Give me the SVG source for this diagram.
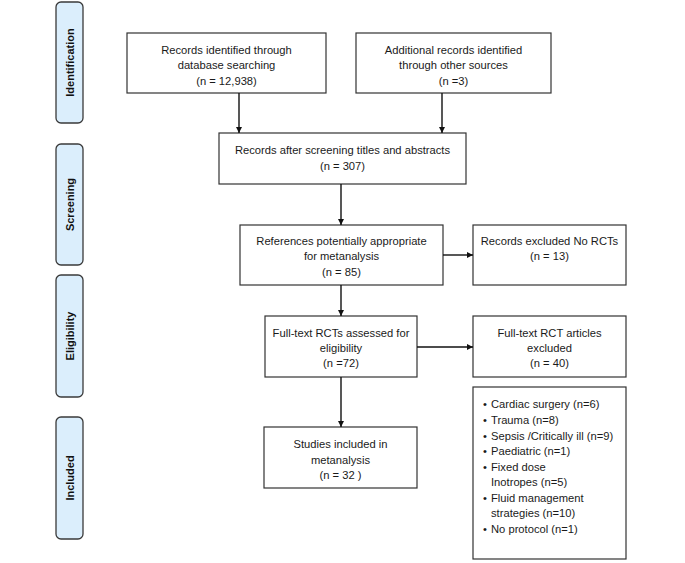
<svg xmlns="http://www.w3.org/2000/svg" width="685" height="563" viewBox="0 0 685 563">
<style>
.stage rect{fill:#dbeefc;stroke:#3a3a3a;stroke-width:1.3}
.stage text{font-family:"Liberation Sans",Arial,sans-serif;font-size:11px;font-weight:bold;fill:#111;text-anchor:middle}
.box rect{fill:#fff;stroke:#333;stroke-width:1.2}
.box text{font-family:"Liberation Sans",Arial,sans-serif;font-size:11.2px;fill:#1a1a1a;text-anchor:middle}
.list text{text-anchor:start}
.conn line{stroke:#111;stroke-width:1.4;marker-end:url(#ah)}
</style>
<defs>
<marker id="ah" viewBox="0 0 8 8" refX="8" refY="4" markerWidth="6" markerHeight="6" orient="auto" markerUnits="userSpaceOnUse">
<path d="M0,0 L8,4 L0,8 z" fill="#111"/>
</marker>
</defs>
<rect width="685" height="563" fill="#fff"/>
<g id="stage-identification" class="stage"><rect x="56" y="2" width="27" height="121" rx="5"/><text transform="translate(73.5,62.5) rotate(-90)">Identification</text></g>
<g id="stage-screening" class="stage"><rect x="56" y="144" width="27" height="121" rx="5"/><text transform="translate(73.5,204.5) rotate(-90)">Screening</text></g>
<g id="stage-eligibility" class="stage"><rect x="56" y="275" width="27" height="122" rx="5"/><text transform="translate(73.5,336) rotate(-90)">Eligibility</text></g>
<g id="stage-included" class="stage"><rect x="56" y="417" width="27" height="122" rx="5"/><text transform="translate(73.5,478) rotate(-90)">Included</text></g>

<g id="n1" class="box"><rect x="127" y="33" width="199" height="60"/><text x="226.5" y="53.5">Records identified through</text><text x="226.5" y="69">database searching</text><text x="226.5" y="85">(n = 12,938)</text></g>
<g id="n2" class="box"><rect x="356" y="33" width="195" height="60"/><text x="453.5" y="53.5">Additional records identified</text><text x="453.5" y="69">through other sources</text><text x="453.5" y="85">(n =3)</text></g>
<g id="n3" class="box"><rect x="219" y="133" width="247" height="51"/><text x="342.5" y="153.5">Records after screening titles and abstracts</text><text x="342.5" y="170">(n = 307)</text></g>
<g id="n4" class="box"><rect x="240" y="225" width="203" height="60"/><text x="341.5" y="245">References potentially appropriate</text><text x="341.5" y="260">for metanalysis</text><text x="341.5" y="276">(n = 85)</text></g>
<g id="n5" class="box"><rect x="473" y="225" width="153" height="60"/><text x="549.5" y="245">Records excluded No RCTs</text><text x="549.5" y="260">(n = 13)</text></g>
<g id="n6" class="box"><rect x="265" y="316" width="152" height="61"/><text x="341" y="336.5">Full-text RCTs assessed for</text><text x="341" y="351.5">eligibility</text><text x="341" y="367">(n =72)</text></g>
<g id="n7" class="box"><rect x="473" y="316" width="153" height="61"/><text x="549.5" y="336.5">Full-text RCT articles</text><text x="549.5" y="351.5">excluded</text><text x="549.5" y="367">(n = 40)</text></g>
<g id="n8" class="box list"><rect x="473" y="387" width="153" height="172"/>
<text x="483" y="408">•</text><text x="491" y="408">Cardiac surgery (n=6)</text>
<text x="483" y="424">•</text><text x="491" y="424">Trauma (n=8)</text>
<text x="483" y="440">•</text><text x="491" y="440">Sepsis /Critically ill (n=9)</text>
<text x="483" y="455">•</text><text x="491" y="455">Paediatric (n=1)</text>
<text x="483" y="471">•</text><text x="491" y="471">Fixed dose</text>
<text x="491" y="486">Inotropes (n=5)</text>
<text x="483" y="502">•</text><text x="491" y="502">Fluid management</text>
<text x="491" y="517">strategies (n=10)</text>
<text x="483" y="533">•</text><text x="491" y="533">No protocol (n=1)</text>
</g>
<g id="n9" class="box"><rect x="264" y="427" width="153" height="61"/><text x="340.5" y="447.5">Studies included in</text><text x="340.5" y="463.5">metanalysis</text><text x="340.5" y="479">(n = 32 )</text></g>

<g id="connectors" class="conn">
<line x1="239" y1="93" x2="239" y2="133"/>
<line x1="442" y1="93" x2="442" y2="133"/>
<line x1="341" y1="184" x2="341" y2="225"/>
<line x1="443" y1="255" x2="473" y2="255"/>
<line x1="341" y1="285" x2="341" y2="316"/>
<line x1="417" y1="347" x2="473" y2="347"/>
<line x1="341" y1="377" x2="341" y2="427"/>
</g>
</svg>
